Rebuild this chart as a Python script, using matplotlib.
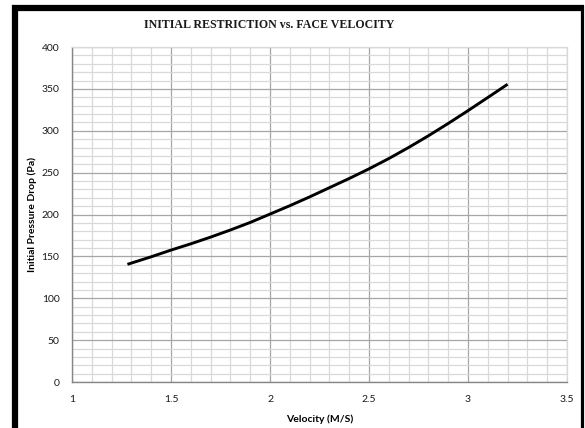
import matplotlib
matplotlib.use("Agg")
import matplotlib.pyplot as plt
from matplotlib.lines import Line2D
from matplotlib.ticker import MultipleLocator

velocity = [1.28, 1.4, 1.5, 1.6, 1.7, 1.8, 1.9, 2.0, 2.1, 2.2, 2.3, 2.4, 2.5,
            2.6, 2.7, 2.8, 2.9, 3.0, 3.1, 3.2]
pressure = [140.5, 149.5, 157.5, 165, 173, 181.5, 190.5, 200.5, 210.5, 221, 232, 243, 254.5,
            266.8, 280, 294, 308.7, 324, 339.7, 355.5]

title = "INITIAL RESTRICTION vs. FACE VELOCITY"
xlabel = "Velocity (M/S)"
ylabel = "Initial Pressure Drop (Pa)"

W, H = 585, 428
fig = plt.figure(figsize=(W / 100, H / 100), dpi=100)
fig.patch.set_facecolor("white")

ax = fig.add_axes([72 / W, 1 - 382 / H, (567 - 72) / W, (382 - 47) / H])
ax.plot(velocity, pressure, color="black", lw=2.1, solid_capstyle="butt",
        solid_joinstyle="round", zorder=5)

ax.set_xlim(1, 3.5)
ax.set_ylim(0, 400)
ax.xaxis.set_major_locator(MultipleLocator(0.5))
ax.xaxis.set_minor_locator(MultipleLocator(0.1))
ax.yaxis.set_major_locator(MultipleLocator(50))
ax.yaxis.set_minor_locator(MultipleLocator(10))
ax.set_xticks([1, 1.5, 2, 2.5, 3, 3.5])
ax.set_xticklabels(["1", "1.5", "2", "2.5", "3", "3.5"])

ax.grid(which="minor", color="#d9d9d9", lw=0.9)
ax.grid(which="major", color="#a6a6a6", lw=0.9)
ax.set_axisbelow(True)
for s in ["top", "right"]:
    ax.spines[s].set_color("#d9d9d9")
    ax.spines[s].set_linewidth(0.9)
for s in ["left", "bottom"]:
    ax.spines[s].set_color("#868686")
    ax.spines[s].set_linewidth(1.0)

ax.tick_params(which="both", length=0)
ax.tick_params(axis="y", pad=9, labelsize=7.5)
ax.tick_params(axis="x", pad=9, labelsize=7.5)
for lab in ax.get_xticklabels() + ax.get_yticklabels():
    lab.set_fontfamily("Lato")
    lab.set_color("#1a1a1a")

ax.set_xlabel(xlabel, fontsize=7.5, fontweight="bold", family="Lato", labelpad=8)
ax.set_ylabel(ylabel, fontsize=7.5, fontweight="bold", family="Lato", labelpad=3)

fig.text(269 / W, 1 - 24.5 / H, title, ha="center", va="center",
         family="Liberation Serif", fontweight="bold", fontsize=8.6, color="#1a1a1a")

# screenshot frame
fig.add_artist(Line2D([15 / W, 15 / W], [0, 1 - 5 / H], transform=fig.transFigure,
                      color="black", lw=4.5, solid_capstyle="butt"))
fig.add_artist(Line2D([12 / W, 583.5 / W], [1 - 8 / H, 1 - 8 / H], transform=fig.transFigure,
                      color="black", lw=4.5, solid_capstyle="butt"))
fig.add_artist(Line2D([581.8 / W, 581.8 / W], [0, 1 - 5 / H], transform=fig.transFigure,
                      color="black", lw=2.3, solid_capstyle="butt"))

fig.savefig("out.png", dpi=100)
